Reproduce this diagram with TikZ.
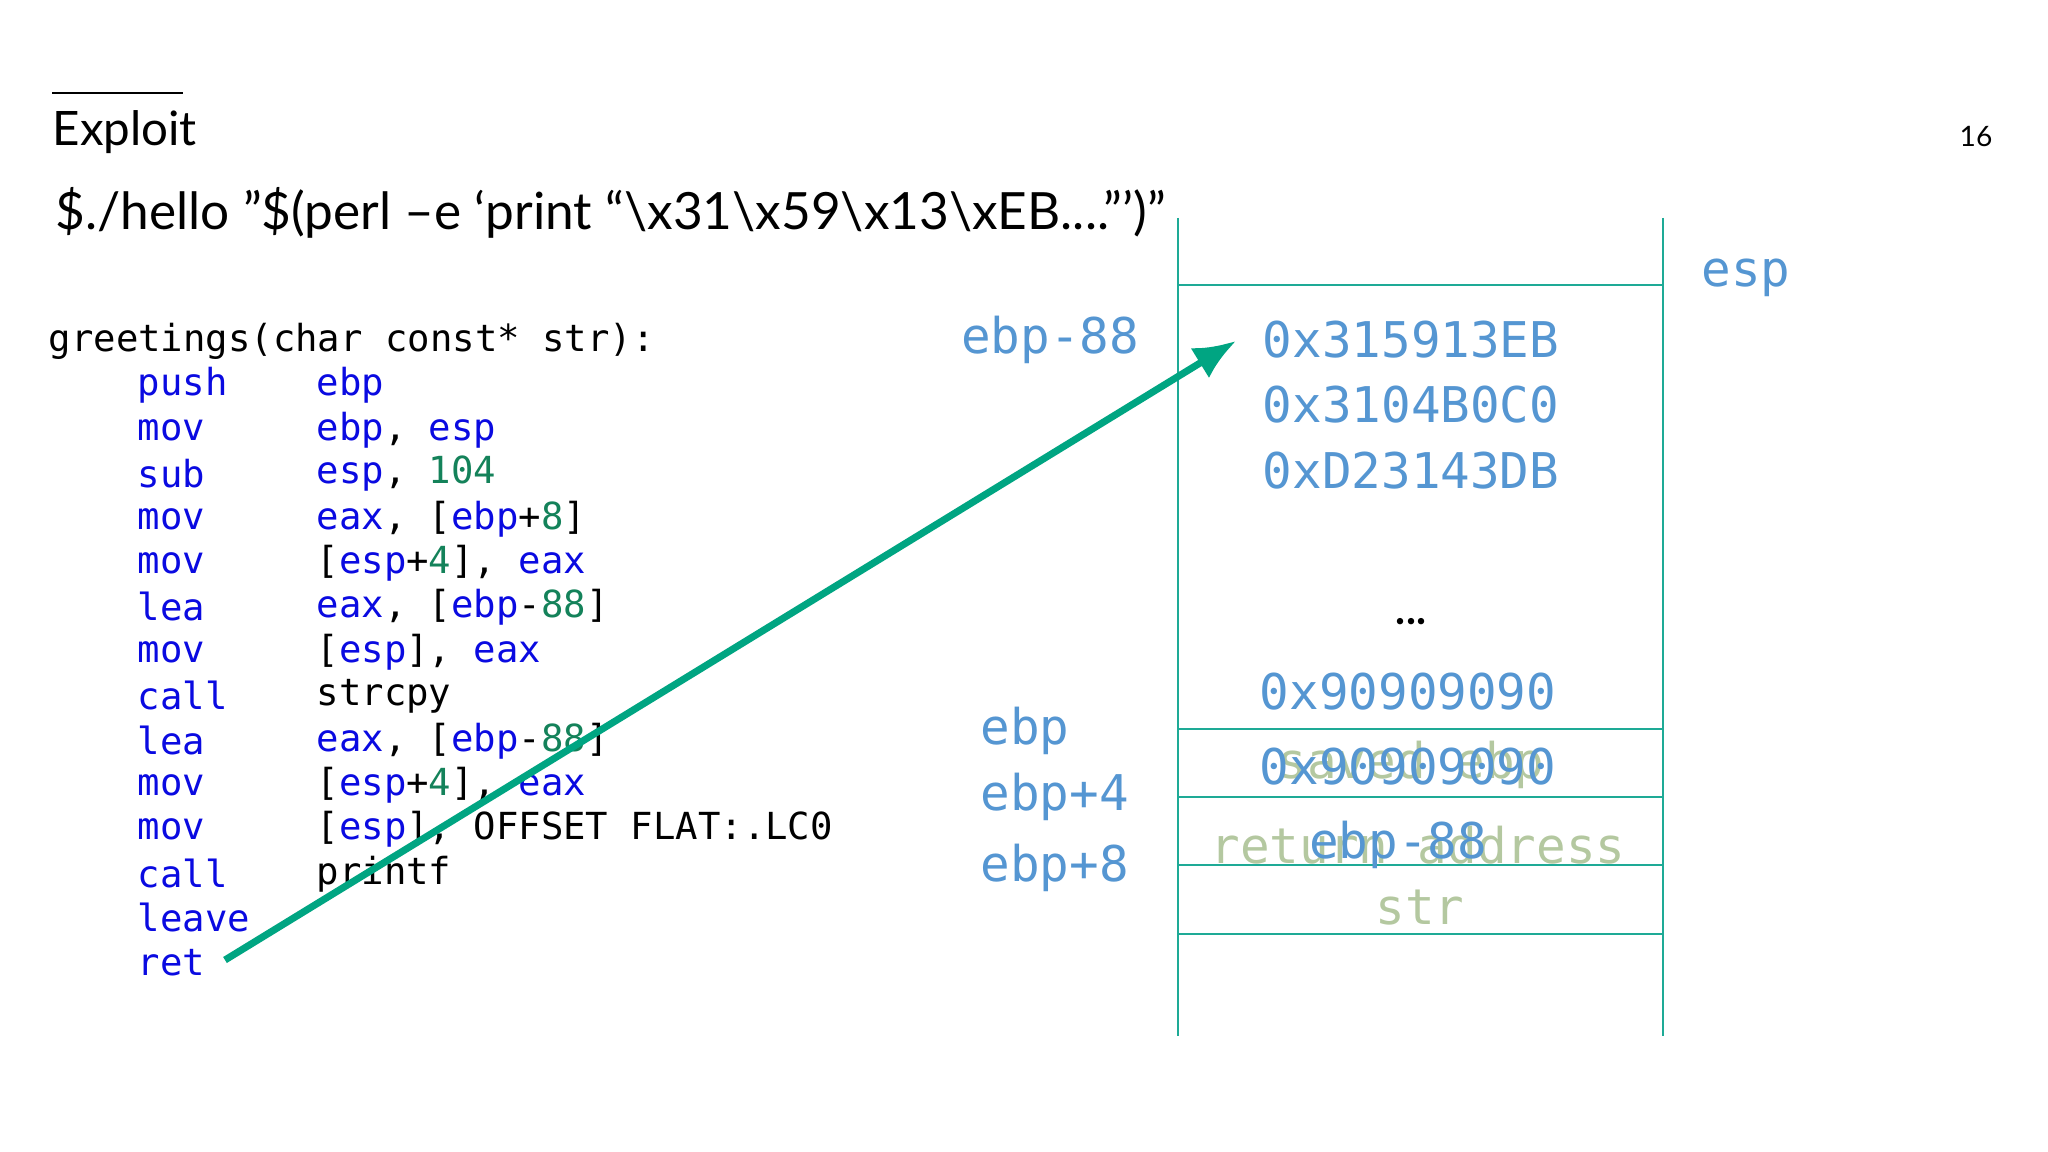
\documentclass[tikz,border=0pt]{standalone}
\usetikzlibrary{arrows.meta}
\usepackage{fontspec}
\setmainfont{Lato}
\setmonofont{DejaVu Sans Mono}
\definecolor{kw}{RGB}{10,10,225}
\definecolor{num}{RGB}{20,130,90}
\definecolor{lb}{RGB}{85,150,210}
\definecolor{fd}{RGB}{180,200,160}
\definecolor{tl}{RGB}{30,170,150}
\definecolor{arr}{RGB}{0,165,130}
\newcommand{\K}[1]{{\color{kw}#1}}
\newcommand{\N}[1]{{\color{num}#1}}
\begin{document}
\begin{tikzpicture}[x=0.01cm,y=-0.01cm,
  code/.style={font=\ttfamily\fontsize{10.6}{12}\selectfont,anchor=west,inner sep=0},
  mn/.style={code,text=kw},
  big/.style={font=\ttfamily\fontsize{14}{16}\selectfont,inner sep=0},
  sl/.style={tl,line width=0.8pt}]
\useasboundingbox (0,0) rectangle (2048,1152);
\fill[white] (0,0) rectangle (2048,1152);
\draw[line width=0.8pt] (52,93) -- (183,93);
\node[anchor=west,inner sep=0,font=\fontsize{13.5}{15}\selectfont] (title) at (52,132) {Exploit};
\node[inner sep=0,font=\fontsize{8}{9}\selectfont] (pg) at (1976,137) {16};
\node[anchor=west,inner sep=0,font=\fontsize{14.6}{17}\selectfont] (cmd) at (55,213) {\$./hello "\$(perl –e ‘print “\textbackslash x31\textbackslash x59\textbackslash x13\textbackslash xEB....”’)”};
% code
\node[code] (c0) at (48,341) {greetings(char const* str):};
\node[mn] (m1) at (137,385) {push};  \node[code] (o1) at (316,385) {\K{ebp}};
\node[mn] (m2) at (137,430) {mov};   \node[code] (o2) at (316,430) {\K{ebp}, \K{esp}};
\node[mn] (m3) at (137,474) {sub};   \node[code] (o3) at (316,474) {\K{esp}, \N{104}};
\node[mn] (m4) at (137,519) {mov};   \node[code] (o4) at (316,519) {\K{eax}, [\K{ebp}+\N{8}]};
\node[mn] (m5) at (137,563) {mov};   \node[code] (o5) at (316,563) {[\K{esp}+\N{4}], \K{eax}};
\node[mn] (m6) at (137,607) {lea};   \node[code] (o6) at (316,607) {\K{eax}, [\K{ebp}-\N{88}]};
\node[mn] (m7) at (137,652) {mov};   \node[code] (o7) at (316,652) {[\K{esp}], \K{eax}};
\node[mn] (m8) at (137,696) {call};  \node[code] (o8) at (316,696) {strcpy};
\node[mn] (m9) at (137,741) {lea};   \node[code] (o9) at (316,741) {\K{eax}, [\K{ebp}-\N{88}]};
\node[mn] (m10) at (137,785) {mov};  \node[code] (o10) at (316,785) {[\K{esp}+\N{4}], \K{eax}};
\node[mn] (m11) at (137,829) {mov};  \node[code] (o11) at (316,829) {[\K{esp}], OFFSET FLAT:.LC0};
\node[mn] (m12) at (137,874) {call}; \node[code] (o12) at (316,874) {printf};
\node[mn] (m13) at (137,918) {leave};
\node[mn] (m14) at (137,963) {ret};
% stack
\draw[sl] (1178,218) -- (1178,1036);
\draw[sl] (1663,218) -- (1663,1036);
\foreach \y in {285,729,797,865,934} \draw[sl] (1178,\y) -- (1663,\y);
\node[big,text=lb] (esp) at (1746,278) {esp};
\node[big,text=lb] (e88) at (1050,340) {ebp-88};
\node[big,text=lb] (h1) at (1411,340) {0x315913EB};
\node[big,text=lb] (h2) at (1411,405) {0x3104B0C0};
\node[big,text=lb] (h3) at (1411,471) {0xD23143DB};
\node[inner sep=0,font=\bfseries\fontsize{12}{14}\selectfont] (dots) at (1411,622) {...};
\node[big,text=lb] (h4) at (1408,692) {0x90909090};
\node[big,text=fd] (sv) at (1411,765) {saved ebp};
\node[big,text=lb] (h5) at (1408,767) {0x90909090};
\node[big,text=fd] (ra) at (1418,845) {return address};
\node[big,text=lb] (e88b) at (1398,845) {ebp-88};
\node[big,text=fd] (str) at (1420,908) {str};
\node[big,text=lb,anchor=west] (l1) at (980,731) {ebp};
\node[big,text=lb,anchor=west] (l2) at (980,797) {ebp+4};
\node[big,text=lb,anchor=west] (l3) at (980,868) {ebp+8};
\coordinate (a0) at (225,960);
\coordinate (a1) at (1236,341);
\draw[arr,line width=2pt,-{Latex[length=12pt,width=10pt]}] (a0) -- (a1);
\end{tikzpicture}
\end{document}
